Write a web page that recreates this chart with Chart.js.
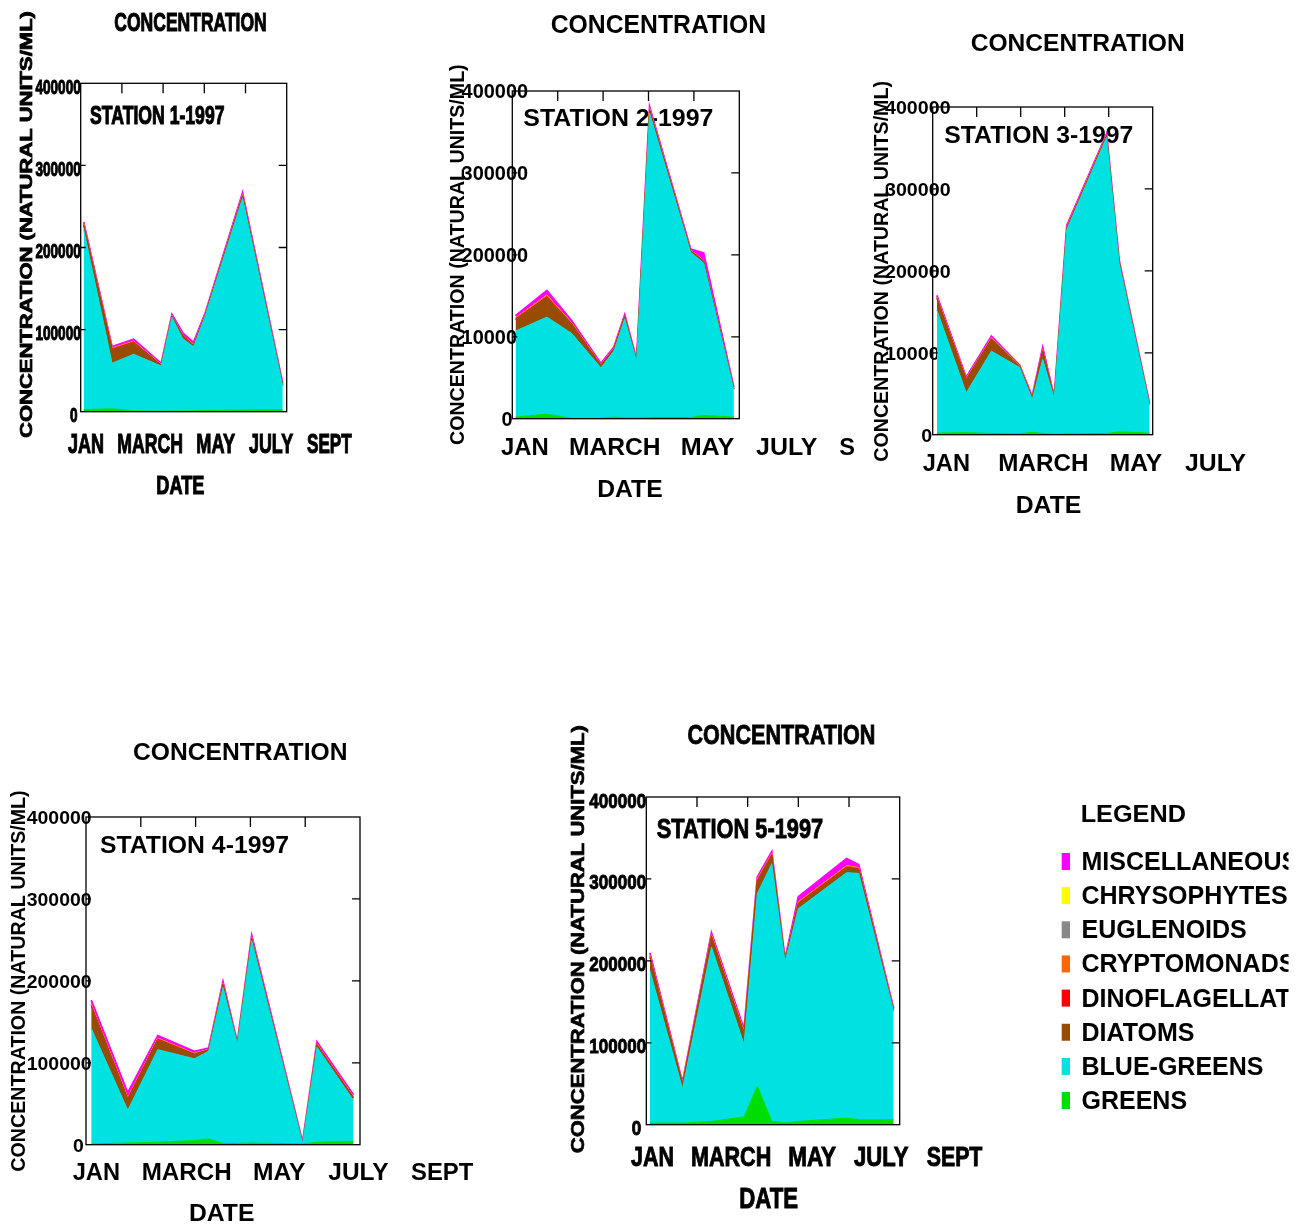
<!DOCTYPE html>
<html>
<head>
<meta charset="utf-8">
<title>Phytoplankton concentration by station, 1997</title>
<script src="https://cdn.jsdelivr.net/npm/chart.js@4/dist/chart.umd.min.js"></script>
<style>
  html, body { margin: 0; padding: 0; background: #ffffff; }
  #page { position: relative; width: 1309px; height: 1226px; overflow: hidden; background: #ffffff; }
  #page canvas { position: absolute; left: 0; top: 0; }
</style>
</head>
<body>
<div id="page">
  <canvas id="st1" width="1309" height="1226"></canvas>
  <canvas id="st2" width="1309" height="1226"></canvas>
  <canvas id="st3" width="1309" height="1226"></canvas>
  <canvas id="st4" width="1309" height="1226"></canvas>
  <canvas id="st5" width="1309" height="1226"></canvas>
</div>
<script>
// Algal groups, bottom of the stack first
const groups = ['GREENS', 'BLUE-GREENS', 'DIATOMS', 'DINOFLAGELLATES', 'CRYPTOMONADS', 'EUGLENOIDS', 'CHRYSOPHYTES', 'MISCELLANEOUS'];
const groupColors = ['#00dd00', '#00e1e1', '#994c00', '#ff0000', '#ff6600', '#888888', '#ffff00', '#ff00ff'];

// Axis labels
const monthLabels = ['JAN', 'MARCH', 'MAY', 'JULY', 'SEPT'];
const yTicks = [0, 100000, 200000, 300000, 400000];
const xTickDays = [42, 84, 126, 168];

// Station 1 (day of year, cells per ml)
const st1Days = [3, 32, 54, 82, 93, 104, 115, 127, 165, 206];
const st1Greens = [2500, 3500, 1000, 500, 800, 800, 1000, 1500, 2000, 2500];
const st1BlueGreens = [219500, 55500, 69000, 55100, 114200, 88200, 78000, 115500, 258000, 28500];
const st1Diatoms = [5000, 16500, 14000, 1000, 1000, 3500, 1500, 1000, 2500, 1000];
const st1Dinoflagellates = [600, 700, 600, 300, 300, 400, 300, 300, 500, 300];
const st1Cryptomonads = [800, 900, 800, 400, 500, 500, 400, 400, 800, 400];
const st1Euglenoids = [200, 200, 200, 100, 100, 100, 100, 100, 200, 100];
const st1Chrysophytes = [200, 200, 200, 100, 100, 100, 100, 100, 200, 100];
const st1Misc = [2200, 1800, 2500, 1200, 1500, 2500, 3000, 1500, 2500, 1500];

// Station 2
const st2Days = [3, 32, 55, 82, 94, 104, 115, 127, 165, 177, 205];
const st2Greens = [2000, 5500, 500, 500, 2000, 1000, 1000, 1500, 1500, 4000, 2000];
const st2BlueGreens = [105000, 118500, 103500, 61500, 80600, 121000, 69000, 371500, 201500, 186000, 33000];
const st2Diatoms = [14000, 24000, 11000, 3000, 2500, 2500, 700, 3500, 1500, 2000, 1000];
const st2Dinoflagellates = [700, 800, 600, 300, 300, 300, 200, 600, 400, 400, 200];
const st2Cryptomonads = [1000, 1500, 900, 500, 400, 400, 300, 1000, 500, 500, 300];
const st2Euglenoids = [200, 300, 200, 100, 100, 100, 100, 200, 100, 200, 100];
const st2Chrysophytes = [200, 300, 200, 100, 100, 100, 100, 200, 100, 200, 100];
const st2Misc = [2500, 5500, 2500, 1500, 1500, 1500, 1200, 2500, 1500, 9000, 1500];

// Station 3
const st3Days = [4, 32, 56, 83, 95, 105, 116, 128, 166, 178, 207];
const st3Greens = [2000, 2500, 1500, 1000, 3000, 1500, 500, 1000, 1500, 3500, 2000];
const st3BlueGreens = [150000, 48500, 100500, 81000, 40000, 90500, 43500, 249600, 361500, 205500, 34000];
const st3Diatoms = [14000, 16000, 14000, 1000, 2000, 10000, 500, 1500, 1500, 1500, 500];
const st3Dinoflagellates = [600, 500, 700, 300, 300, 500, 200, 500, 500, 400, 200];
const st3Cryptomonads = [1000, 800, 1000, 400, 400, 800, 300, 700, 700, 500, 300];
const st3Euglenoids = [200, 200, 200, 100, 100, 200, 100, 100, 100, 100, 100];
const st3Chrysophytes = [200, 200, 200, 100, 100, 200, 100, 100, 100, 100, 100];
const st3Misc = [2000, 1500, 2000, 1000, 1000, 3000, 1000, 1800, 1500, 1500, 1000];

// Station 4
const st4Days = [4, 32, 55, 83, 94, 105, 116, 127, 166, 177, 205];
const st4Greens = [1000, 2000, 3000, 5000, 7000, 1500, 1500, 2000, 1000, 3000, 4000];
const st4BlueGreens = [141000, 40000, 113000, 100000, 107000, 190500, 121500, 247000, 600, 116000, 50000];
const st4Diatoms = [27000, 13000, 12000, 5000, 1500, 3000, 500, 2500, 300, 2500, 3000];
const st4Dinoflagellates = [800, 800, 700, 500, 300, 500, 200, 500, 100, 500, 500];
const st4Cryptomonads = [1200, 1200, 1000, 800, 400, 700, 300, 800, 100, 800, 800];
const st4Euglenoids = [200, 200, 200, 100, 100, 200, 100, 100, 50, 100, 100];
const st4Chrysophytes = [200, 200, 200, 100, 100, 200, 100, 100, 50, 100, 100];
const st4Misc = [5000, 6000, 3000, 2500, 1500, 2500, 1000, 2500, 1000, 2500, 2500];

// Station 5
const st5Days = [3, 30, 54, 81, 92, 104, 115, 126, 166, 176, 205];
const st5Greens = [2000, 2000, 4000, 9500, 47000, 4000, 2000, 4000, 8000, 6000, 6000];
const st5BlueGreens = [186000, 42000, 213000, 88500, 235000, 314600, 196600, 259700, 299600, 300800, 132000];
const st5Diatoms = [16000, 5000, 12000, 13000, 15000, 10000, 1500, 6000, 6000, 5000, 1500];
const st5Dinoflagellates = [800, 500, 800, 800, 800, 700, 300, 800, 800, 700, 300];
const st5Cryptomonads = [1500, 800, 1500, 1500, 1500, 1200, 500, 1200, 1200, 1000, 500];
const st5Euglenoids = [200, 100, 200, 200, 200, 200, 100, 200, 200, 200, 100];
const st5Chrysophytes = [200, 100, 200, 200, 200, 200, 100, 200, 200, 200, 100];
const st5Misc = [3000, 1500, 2500, 3000, 2500, 2500, 1500, 6000, 9000, 3500, 1500];

const FONT = '"Liberation Sans", Arial, Helvetica, sans-serif';
const PAGE_W = 1309, PAGE_H = 1226;

const capRatio = (() => {
  const c = document.createElement('canvas').getContext('2d');
  c.font = `bold 100px ${FONT}`;
  return c.measureText('H').actualBoundingBoxAscent / 100;
})();

// Draw bold text so that its ink fills [x0, x1] horizontally with a given cap height
function fitText(ctx, str, x0, x1, base, cap, heavy) {
  ctx.save();
  ctx.font = `bold ${cap / capRatio}px ${FONT}`;
  ctx.textAlign = 'left';
  ctx.textBaseline = 'alphabetic';
  const m = ctx.measureText(str);
  const ink = m.actualBoundingBoxLeft + m.actualBoundingBoxRight;
  const sx = (x1 - x0) / ink;
  ctx.translate(x0 + m.actualBoundingBoxLeft * sx, base);
  ctx.scale(sx, 1);
  ctx.fillStyle = '#000';
  ctx.fillText(str, 0, 0);
  if (heavy) { ctx.strokeStyle = '#000'; ctx.lineWidth = heavy; ctx.strokeText(str, 0, 0); }
  ctx.restore();
}

// Same, reading bottom to top; baseline on the right-hand side
function fitTextUp(ctx, str, yBottom, yTop, baseX, cap, heavy) {
  ctx.save();
  ctx.font = `bold ${cap / capRatio}px ${FONT}`;
  ctx.textAlign = 'left';
  ctx.textBaseline = 'alphabetic';
  const m = ctx.measureText(str);
  const ink = m.actualBoundingBoxLeft + m.actualBoundingBoxRight;
  const s = (yBottom - yTop) / ink;
  ctx.translate(baseX, yBottom);
  ctx.rotate(-Math.PI / 2);
  ctx.translate(m.actualBoundingBoxLeft * s, 0);
  ctx.scale(s, 1);
  ctx.fillStyle = '#000';
  ctx.fillText(str, 0, 0);
  if (heavy) { ctx.strokeStyle = '#000'; ctx.lineWidth = heavy * 0.7; ctx.strokeText(str, 0, 0); }
  ctx.restore();
}

function clipTo(ctx, r) {
  ctx.beginPath();
  ctx.rect(r[0], r[1], r[2] - r[0], r[3] - r[1]);
  ctx.clip();
}

const stationDecor = {
  id: 'stationDecor',
  beforeDatasetsDraw(chart, args, o) {
    const ctx = chart.ctx, ys = chart.scales.y;
    ctx.save();
    clipTo(ctx, o.clip);
    // value labels sit underneath the filled areas
    const t = o.yLab;
    ctx.font = `bold ${t.cap / capRatio}px ${FONT}`;
    const ref = ctx.measureText('400000');
    const sx = t.w6 / (ref.actualBoundingBoxLeft + ref.actualBoundingBoxRight);
    yTicks.forEach(v => {
      const str = String(v);
      ctx.font = `bold ${t.cap / capRatio}px ${FONT}`;
      const m = ctx.measureText(str);
      const w = (m.actualBoundingBoxLeft + m.actualBoundingBoxRight) * sx;
      const right = v === 0 ? t.right0 : t.right6;
      const base = ys.getPixelForValue(v) + t.dy + t.cap / 2;
      fitText(ctx, str, right - w, right, base, t.cap, o.heavy);
    });
    const s = o.station;
    fitText(ctx, s.text, s.x0, s.x1, s.base, s.cap, o.heavy);
    ctx.restore();
  },
  afterDatasetsDraw(chart, args, o) {
    const ctx = chart.ctx, a = chart.chartArea, xs = chart.scales.x, ys = chart.scales.y;
    ctx.save();
    // frame and inward tick marks
    ctx.strokeStyle = '#000';
    ctx.lineWidth = 1.3;
    ctx.strokeRect(a.left, a.top, a.right - a.left, a.bottom - a.top);
    ctx.beginPath();
    xTickDays.forEach(d => {
      const x = xs.getPixelForValue(d);
      ctx.moveTo(x, a.top); ctx.lineTo(x, a.top + 10);
    });
    yTicks.slice(1, -1).forEach(v => {
      const y = ys.getPixelForValue(v);
      ctx.moveTo(a.right, y); ctx.lineTo(a.right - 8, y);
      ctx.moveTo(a.left, y); ctx.lineTo(a.left + 5, y);
    });
    ctx.stroke();
    ctx.restore();

    ctx.save();
    clipTo(ctx, o.clip);
    const ti = o.title;
    fitText(ctx, 'CONCENTRATION', ti.x0, ti.x1, ti.base, ti.cap, o.heavy);
    const yt = o.yTitle;
    fitTextUp(ctx, 'CONCENTRATION (NATURAL UNITS/ML)', yt.y0, yt.y1, yt.base, yt.cap, o.heavy);
    const mo = o.months;
    monthLabels.forEach((lab, i) => {
      const b = mo.boxes[i];
      fitText(ctx, lab, b[0], b[1], mo.base, mo.cap, o.heavy);
    });
    const dt = o.date;
    fitText(ctx, 'DATE', dt.x0, dt.x1, dt.base, dt.cap, o.heavy);
    ctx.restore();

    // group key, drawn once beside the last panel
    if (o.legend) {
      const L = o.legend;
      ctx.save();
      clipTo(ctx, L.clip);
      fitText(ctx, 'LEGEND', L.x0, L.x1, L.base, L.cap, 0);
      ctx.font = `bold ${L.itemSize}px ${FONT}`;
      ctx.textAlign = 'left';
      ctx.textBaseline = 'alphabetic';
      const items = chart.data.datasets.slice().reverse();
      items.forEach((ds, i) => {
        const base = L.firstBase + i * L.step;
        ctx.fillStyle = ds.backgroundColor;
        ctx.fillRect(L.markX, base - L.markH, L.markW, L.markH);
        ctx.fillStyle = '#000';
        ctx.fillText(ds.label, L.textX, base);
      });
      ctx.restore();
    }
  }
};

function makeDatasets(days, series) {
  return series.map((vals, i) => ({
    label: groups[i],
    data: vals.map((v, k) => ({ x: days[k], y: v })),
    backgroundColor: groupColors[i],
    borderColor: groupColors[i],
    borderWidth: i === series.length - 1 ? 1.8 : 1,
    fill: i === 0 ? 'origin' : '-1',
    pointRadius: 0,
    tension: 0
  }));
}

function makeChart(id, days, series, area, decor) {
  return new Chart(document.getElementById(id), {
    type: 'line',
    data: { datasets: makeDatasets(days, series) },
    options: {
      responsive: false,
      animation: false,
      devicePixelRatio: 1,
      events: [],
      layout: { padding: { left: area[0], top: area[1], right: PAGE_W - area[2], bottom: PAGE_H - area[3] } },
      scales: {
        x: { type: 'linear', min: 0, max: 210, display: false },
        y: { type: 'linear', min: 0, max: 400000, stacked: true, display: false }
      },
      plugins: { legend: { display: false }, tooltip: { enabled: false }, stationDecor: decor }
    },
    plugins: [stationDecor]
  });
}

makeChart('st1', st1Days,
  [st1Greens, st1BlueGreens, st1Diatoms, st1Dinoflagellates, st1Cryptomonads, st1Euglenoids, st1Chrysophytes, st1Misc],
  [80.7, 83.3, 286.7, 411.7], {
    clip: [0, 0, 445, 520], heavy: 1.1,
    title: { x0: 115, x1: 266, base: 30.5, cap: 18.5 },
    station: { text: 'STATION 1-1997', x0: 90, x1: 224.3, base: 124, cap: 18 },
    yTitle: { y0: 438, y1: 12, base: 31.7, cap: 12 },
    date: { x0: 157, x1: 204, base: 494, cap: 18.5 },
    months: { base: 453, cap: 19, boxes: [[68, 103], [118, 182], [197, 235], [249, 293], [307, 352]] },
    yLab: { cap: 14.3, w6: 45, right6: 80.5, right0: 77.3, dy: 3.5 }
  });

makeChart('st2', st2Days,
  [st2Greens, st2BlueGreens, st2Diatoms, st2Dinoflagellates, st2Cryptomonads, st2Euglenoids, st2Chrysophytes, st2Misc],
  [512.3, 91, 739.3, 418.7], {
    clip: [445, 0, 855.5, 520], heavy: 0,
    title: { x0: 551.7, x1: 765, base: 33.3, cap: 17.5 },
    station: { text: 'STATION 2-1997', x0: 523.3, x1: 712.7, base: 126, cap: 17.2 },
    yTitle: { y0: 445, y1: 65, base: 463.5, cap: 14 },
    date: { x0: 598.3, x1: 661.7, base: 496.7, cap: 16.7 },
    months: { base: 455, cap: 17, boxes: [[501, 547.3], [570, 659], [681.7, 734], [756, 817.3], [839.3, 901]] },
    yLab: { cap: 13.6, w6: 65.7, right6: 527.3, right0: 511.7, dy: 0 }
  });

makeChart('st3', st3Days,
  [st3Greens, st3BlueGreens, st3Diatoms, st3Dinoflagellates, st3Cryptomonads, st3Euglenoids, st3Chrysophytes, st3Misc],
  [932.7, 107, 1152.7, 434.7], {
    clip: [857, 0, 1262, 530], heavy: 0,
    title: { x0: 971.7, x1: 1184, base: 50.7, cap: 17.2 },
    station: { text: 'STATION 3-1997', x0: 944.3, x1: 1132.7, base: 142.7, cap: 17 },
    yTitle: { y0: 461.7, y1: 81.7, base: 888, cap: 14 },
    date: { x0: 1016.7, x1: 1081, base: 512.7, cap: 17.2 },
    months: { base: 470.7, cap: 17.2, boxes: [[922.7, 969.3], [999.3, 1087.7], [1110.7, 1161.7], [1185, 1245.7], [1272, 1334]] },
    yLab: { cap: 13.3, w6: 65, right6: 950, right0: 931.7, dy: 0.5 }
  });

makeChart('st4', st4Days,
  [st4Greens, st4BlueGreens, st4Diatoms, st4Dinoflagellates, st4Cryptomonads, st4Euglenoids, st4Chrysophytes, st4Misc],
  [86, 817, 360, 1144.7], {
    clip: [0, 700, 560, 1226], heavy: 0,
    title: { x0: 134, x1: 346.7, base: 760, cap: 17.2 },
    station: { text: 'STATION 4-1997', x0: 100, x1: 288.3, base: 853.3, cap: 17.2 },
    yTitle: { y0: 1171.7, y1: 791, base: 24.5, cap: 14 },
    date: { x0: 190, x1: 254, base: 1220.7, cap: 17.2 },
    months: { base: 1180, cap: 17.2, boxes: [[72.7, 119.3], [142.7, 231], [254, 305], [328.3, 388.3], [411, 473.3]] },
    yLab: { cap: 13.3, w6: 64.3, right6: 91, right0: 83.3, dy: 0.5 }
  });

makeChart('st5', st5Days,
  [st5Greens, st5BlueGreens, st5Diatoms, st5Dinoflagellates, st5Cryptomonads, st5Euglenoids, st5Chrysophytes, st5Misc],
  [646.3, 797, 899.7, 1124.7], {
    clip: [560, 700, 1040, 1226], heavy: 0.9,
    title: { x0: 688.3, x1: 874, base: 744.3, cap: 19 },
    station: { text: 'STATION 5-1997', x0: 656.7, x1: 822.3, base: 837.7, cap: 19 },
    yTitle: { y0: 1153.3, y1: 725, base: 583.5, cap: 12.5 },
    date: { x0: 740, x1: 797.3, base: 1207.7, cap: 20 },
    months: { base: 1166, cap: 19, boxes: [[631, 672.7], [691.7, 770], [789, 836], [854, 908.3], [926.7, 982.7]] },
    yLab: { cap: 14, w6: 56.7, right6: 646, right0: 641, dy: 3.5 },
    legend: { x0: 1081.7, x1: 1185.7, base: 821.7, cap: 16.7, itemSize: 25, textX: 1081.5,
              firstBase: 870, step: 34.15, markX: 1061.7, markW: 8.3, markH: 17,
              clip: [1040, 780, 1288.5, 1130] }
  });
</script>
</body>
</html>
